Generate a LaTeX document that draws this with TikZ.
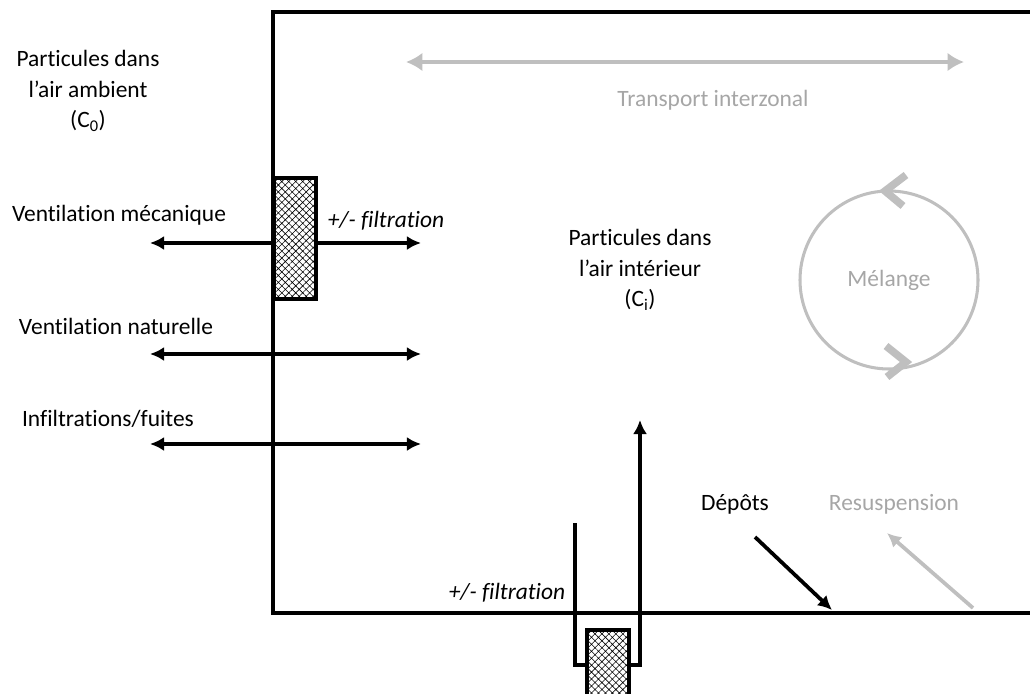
\documentclass[tikz,border=0pt]{standalone}
\usepackage{fontspec}
\setmainfont{Carlito}[Ligatures=NoCommon]
\usepackage{tikz}
\usetikzlibrary{arrows.meta,patterns.meta}

\definecolor{fluxgray}{HTML}{BFBFBF}
\definecolor{txtgray}{HTML}{A6A6A6}

\tikzset{
  txt/.style={font=\fontsize{20}{26}\selectfont, align=center, inner sep=0pt},
  grtxt/.style={txt, text=txtgray},
  wall/.style={line width=3.2pt},
  flux/.style={line width=3.2pt, -{Latex[length=12pt,width=12pt]}},
  dflux/.style={line width=3.2pt, {Latex[length=12pt,width=12pt]}-{Latex[length=12pt,width=12pt]}},
  filtre/.style={draw, line width=3pt, preaction={fill=white},
    pattern={Hatch[angle=45,distance=4.2pt,line width=0.5pt]}},
  chevron/.style={fluxgray, line width=6.5pt, line join=miter}
}

\begin{document}
\begin{tikzpicture}[x=0.03cm, y=-0.03cm]
\useasboundingbox (0,0) rectangle (1030,693);

% piece
\draw[wall] (1040,12) -- (273,12) -- (273,613) -- (1040,613);

% textes
\node[txt] (ambient) at (88,91) {Particules dans\\l’air ambient\\(C\textsubscript{0})};
\node[txt] (interieur) at (640,270) {Particules dans\\l’air intérieur\\(C\textsubscript{i})};
\node[txt] (mecanique) at (119,215) {Ventilation mécanique};
\node[txt] (naturelle) at (116,326) {Ventilation naturelle};
\node[txt] (infiltr) at (108,419) {Infiltrations/fuites};
\node[txt, font=\fontsize{20}{26}\selectfont\itshape] (filtA) at (386,221) {+/- filtration};
\node[txt, font=\fontsize{20}{26}\selectfont\itshape] (filtB) at (507,593) {+/- filtration};
\node[grtxt] (transport) at (713,100) {Transport interzonal};
\node[grtxt] (melange) at (889,280) {Mélange};
\node[txt] (depots) at (735,504) {Dépôts};
\node[grtxt] (resusp) at (894,504) {Resuspension};

% echanges avec l'exterieur
\coordinate (m1) at (150,243); \coordinate (m2) at (421,243);
\coordinate (n1) at (150,354); \coordinate (n2) at (421,354);
\coordinate (i1) at (150,444); \coordinate (i2) at (421,444);
\draw[dflux] (m1) -- (m2);
\draw[dflux] (n1) -- (n2);
\draw[dflux] (i1) -- (i2);
\node[filtre, minimum width=1.26cm, minimum height=3.63cm] (filtreMur) at (295,238.5) {};

% entree par le sol
\coordinate (b1) at (575,523); \coordinate (b2) at (575,665);
\coordinate (b3) at (640,665); \coordinate (b4) at (640,420);
\node[filtre, minimum width=1.26cm, minimum height=2.7cm] (filtreSol) at (608,675) {};
\draw[line width=3.2pt] (b1) -- (b2) -- (filtreSol.west |- b2);
\draw[flux] (filtreSol.east |- b3) -- (b3) -- (b4);

% transport interzonal
\coordinate (t1) at (406,62); \coordinate (t2) at (964,62);
\draw[fluxgray, line width=4pt, {Latex[length=14pt,width=16pt]}-{Latex[length=14pt,width=16pt]}] (t1) -- (t2);

% melange
\draw[fluxgray, line width=2.6pt] (melange) circle (89);
\draw[chevron] (906,175) -- (885,191) -- (903,206);
\draw[chevron] (886,346) -- (906,362) -- (887,377);

% depots et resuspension
\coordinate (d1) at (755,537); \coordinate (d2) at (832,610);
\coordinate (r1) at (973,608); \coordinate (r2) at (887,533);
\draw[flux] (d1) -- (d2);
\draw[flux, fluxgray] (r1) -- (r2);

\end{tikzpicture}
\end{document}
